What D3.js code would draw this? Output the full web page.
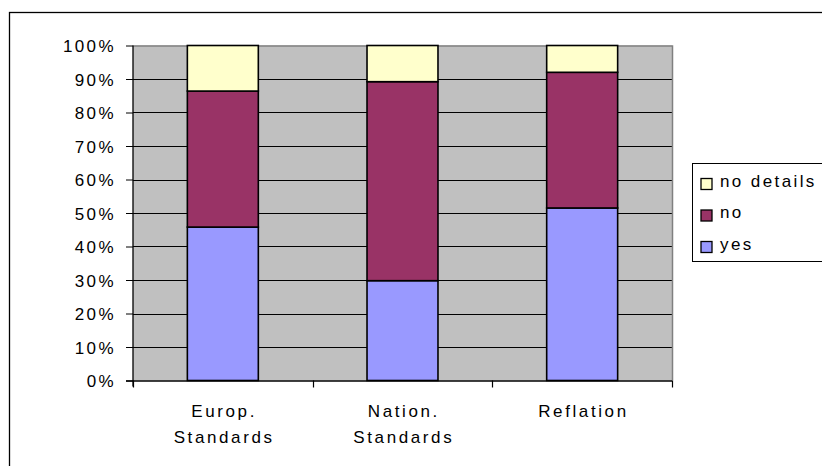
<!DOCTYPE html>
<html>
<head>
<meta charset="utf-8">
<script src="https://cdn.jsdelivr.net/npm/d3@7"></script>
<style>
  html, body { margin: 0; padding: 0; background: #fff; }
  svg { display: block; }
  text { font-family: Arial, "Liberation Sans", sans-serif; }
</style>
</head>
<body>
<svg id="chart" width="822" height="466"></svg>
<script>
// Categories (two-line labels) and stacked shares in percent
const categories = ["Europ.|Standards", "Nation.|Standards", "Reflation"];
const yes = [45.8, 29.8, 51.5];
const no = [40.6, 59.4, 40.5];
const noDetails = [13.6, 10.8, 8.0];
const seriesNames = ["yes", "no", "no details"];
const seriesColors = ["#9999ff", "#993366", "#ffffcc"];
const yTicks = [0, 10, 20, 30, 40, 50, 60, 70, 80, 90, 100];

const svg = d3.select("#chart");
const plot = { left: 133, right: 672, top: 45.5, bottom: 380.5 };
const fontSize = 17;
const spacing = 2.4;

// Outer chart frame
svg.append("rect")
  .attr("x", 9.5).attr("y", 12.5)
  .attr("width", 830).attr("height", 470)
  .attr("fill", "none").attr("stroke", "#000").attr("stroke-width", 1.3);

const x = d3.scaleBand().domain(categories).range([plot.left, plot.right]).paddingInner(0.605).paddingOuter(0.3025);
const y = d3.scaleLinear().domain([0, 100]).range([plot.bottom, plot.top]);

// Plot area background
svg.append("rect")
  .attr("x", plot.left).attr("y", plot.top)
  .attr("width", plot.right - plot.left).attr("height", plot.bottom - plot.top)
  .attr("fill", "#c0c0c0");

// Horizontal gridlines
svg.append("g").selectAll("line").data(yTicks.slice(1, -1)).join("line")
  .attr("x1", plot.left).attr("x2", plot.right)
  .attr("y1", d => Math.round(y(d)) + 0.5).attr("y2", d => Math.round(y(d)) + 0.5)
  .attr("stroke", "#000").attr("stroke-width", 1);

// Plot area border (top and right)
svg.append("path")
  .attr("d", `M${plot.left},${plot.top + 0.5}H${plot.right + 0.5}V${plot.bottom}`)
  .attr("fill", "none").attr("stroke", "#808080").attr("stroke-width", 1.5);

// Stacked bars
const table = categories.map((c, i) => ({ cat: c, yes: yes[i], no: no[i], "no details": noDetails[i] }));
const stacked = d3.stack().keys(seriesNames)(table);
const color = d3.scaleOrdinal().domain(seriesNames).range(seriesColors);

svg.append("g").selectAll("g").data(stacked).join("g")
  .attr("fill", d => color(d.key))
  .selectAll("rect").data(d => d).join("rect")
  .attr("x", d => x(d.data.cat))
  .attr("width", x.bandwidth())
  .attr("y", d => y(d[1]))
  .attr("height", d => y(d[0]) - y(d[1]))
  .attr("stroke", "#000").attr("stroke-width", 1.6);

// Y axis
const yAxis = svg.append("g").attr("transform", `translate(${plot.left},0)`)
  .call(d3.axisLeft(y).tickValues(yTicks).tickFormat(d => d + "%").tickSize(7).tickPadding(10));
yAxis.select(".domain").attr("stroke", "#000").attr("stroke-width", 1.3)
  .attr("d", `M0,${plot.top}V${plot.bottom + 6}`);
yAxis.selectAll(".tick line").attr("stroke", "#000");
yAxis.selectAll(".tick text")
  .attr("font-size", fontSize).attr("fill", "#000").attr("letter-spacing", spacing).attr("dy", "0.36em");

// X axis with ticks at category boundaries
const xg = svg.append("g");
xg.append("line")
  .attr("x1", plot.left - 7).attr("x2", plot.right)
  .attr("y1", plot.bottom + 0.5).attr("y2", plot.bottom + 0.5)
  .attr("stroke", "#000").attr("stroke-width", 1.3);
const bounds = d3.range(categories.length + 1).map(i => plot.left + i * (plot.right - plot.left) / categories.length);
xg.selectAll("line.tick").data(bounds).join("line")
  .attr("class", "tick")
  .attr("x1", d => Math.round(d) + 0.5).attr("x2", d => Math.round(d) + 0.5)
  .attr("y1", plot.bottom).attr("y2", plot.bottom + 7)
  .attr("stroke", "#000").attr("stroke-width", 1.2);

const labels = xg.selectAll("text.cat").data(categories).join("text")
  .attr("class", "cat")
  .attr("text-anchor", "middle")
  .attr("font-size", fontSize).attr("letter-spacing", 2.6)
  .attr("fill", "#000");
labels.each(function (d) {
  const lines = d.split("|");
  const cx = x(d) + x.bandwidth() / 2 + 1.3;
  d3.select(this).selectAll("tspan").data(lines).join("tspan")
    .attr("x", cx)
    .attr("y", (l, i) => 417 + i * 26)
    .text(l => l);
});

// Legend
const legend = svg.append("g");
legend.append("rect")
  .attr("x", 692.5).attr("y", 163.5).attr("width", 140).attr("height", 98)
  .attr("fill", "#fff").attr("stroke", "#000").attr("stroke-width", 1);
const legendOrder = ["no details", "no", "yes"];
const li = legend.selectAll("g.item").data(legendOrder).join("g")
  .attr("class", "item")
  .attr("transform", (d, i) => `translate(700,${186.5 + i * 31.5})`);
li.append("rect")
  .attr("x", 1).attr("y", -8).attr("width", 11).attr("height", 11)
  .attr("fill", d => color(d)).attr("stroke", "#000").attr("stroke-width", 1.3);
li.append("text")
  .attr("x", 20).attr("y", 0)
  .attr("font-size", fontSize).attr("letter-spacing", spacing).attr("fill", "#000")
  .text(d => d);
</script>
</body>
</html>
